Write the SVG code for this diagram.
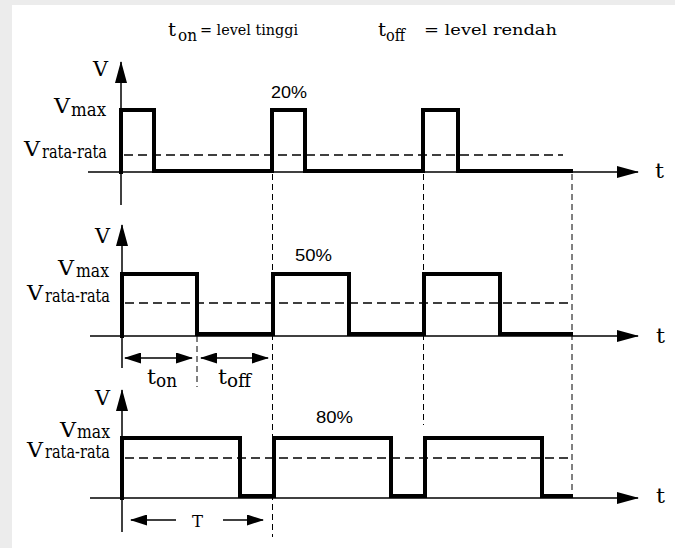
<svg xmlns="http://www.w3.org/2000/svg" width="675" height="548" viewBox="0 0 675 548">
<defs>
<style>
.bg{fill:#ececec}
.paper{fill:#ffffff}
.axis{stroke:#000;stroke-width:1.5;fill:none}
.wave{stroke:#000;stroke-width:4;fill:none;stroke-linejoin:miter;stroke-linecap:square}
.avg{stroke:#000;stroke-width:1.5;fill:none;stroke-dasharray:9 5}
.guide{stroke:#000;stroke-width:1;fill:none;stroke-dasharray:6 4}
.dim{stroke:#000;stroke-width:1.5;fill:none}
text{font-family:'DejaVu Serif','Liberation Serif',serif;fill:#000}
text.pct{font-family:'Liberation Sans',Arial,sans-serif;font-size:17px}
</style>
<marker id="axhead" markerUnits="userSpaceOnUse" markerWidth="22" markerHeight="12" refX="21" refY="6" orient="auto">
<path d="M0,0 L22,6 L0,12 Z" fill="#000"/>
</marker>
<marker id="dimhead" markerUnits="userSpaceOnUse" markerWidth="17" markerHeight="11" refX="16" refY="5.5" orient="auto-start-reverse">
<path d="M0,0 L17,5.5 L0,11 Z" fill="#000"/>
</marker>
</defs>
<rect class="bg" x="0" y="0" width="675" height="548"/>
<rect class="paper" x="12" y="5" width="663" height="543"/>

<g id="legend">
<text x="168" y="36" font-size="19" textLength="8" lengthAdjust="spacingAndGlyphs">t</text>
<text x="178" y="41" font-size="17" textLength="19" lengthAdjust="spacingAndGlyphs">on</text>
<text x="200" y="35" font-size="15" textLength="98" lengthAdjust="spacingAndGlyphs">= level tinggi</text>
<text x="378" y="36" font-size="19" textLength="8" lengthAdjust="spacingAndGlyphs">t</text>
<text x="386" y="41" font-size="17" textLength="19" lengthAdjust="spacingAndGlyphs">off</text>
<text x="424" y="35" font-size="15" textLength="133" lengthAdjust="spacingAndGlyphs">= level rendah</text>
</g>

<g id="panel-20">
<path class="axis" d="M121,205 V62" marker-end="url(#axhead)"/>
<path class="axis" d="M88,172 H638" marker-end="url(#axhead)"/>
<path class="avg" d="M124,155 H563"/>
<path class="wave" d="M121,172 V110 H154 V171 H272 V110 H305 V171 H423 V110 H458 V171 H571"/>
<text x="93" y="76" font-size="20" textLength="15" lengthAdjust="spacingAndGlyphs">V</text>
<text x="54" y="113" font-size="20" textLength="16" lengthAdjust="spacingAndGlyphs">V</text>
<text x="71" y="116" font-size="18" textLength="35" lengthAdjust="spacingAndGlyphs">max</text>
<text x="24" y="156" font-size="20" textLength="16" lengthAdjust="spacingAndGlyphs">V</text>
<text x="42" y="158" font-size="18" textLength="65" lengthAdjust="spacingAndGlyphs">rata-rata</text>
<text class="pct" x="271" y="98" textLength="36" lengthAdjust="spacingAndGlyphs">20%</text>
<text x="655" y="178" font-size="20" textLength="9" lengthAdjust="spacingAndGlyphs">t</text>
</g>

<g id="panel-50">
<path class="axis" d="M122,368 V225" marker-end="url(#axhead)"/>
<path class="axis" d="M90,336 H638" marker-end="url(#axhead)"/>
<path class="avg" d="M125,303 H569"/>
<path class="wave" d="M122,336 V274 H197 V334 H273 V274 H349 V334 H424 V274 H500 V334 H571"/>
<text x="95" y="243" font-size="20" textLength="15" lengthAdjust="spacingAndGlyphs">V</text>
<text x="58" y="275" font-size="20" textLength="16" lengthAdjust="spacingAndGlyphs">V</text>
<text x="76" y="277" font-size="18" textLength="33" lengthAdjust="spacingAndGlyphs">max</text>
<text x="27" y="300" font-size="20" textLength="16" lengthAdjust="spacingAndGlyphs">V</text>
<text x="45" y="302" font-size="18" textLength="65" lengthAdjust="spacingAndGlyphs">rata-rata</text>
<text class="pct" x="295" y="261" textLength="37" lengthAdjust="spacingAndGlyphs">50%</text>
<text x="656" y="343" font-size="20" textLength="9" lengthAdjust="spacingAndGlyphs">t</text>
<text x="147" y="384" font-size="20" textLength="9" lengthAdjust="spacingAndGlyphs">t</text>
<text x="156" y="387" font-size="19" textLength="21" lengthAdjust="spacingAndGlyphs">on</text>
<text x="218" y="384" font-size="20" textLength="9" lengthAdjust="spacingAndGlyphs">t</text>
<text x="227" y="387" font-size="19" textLength="24" lengthAdjust="spacingAndGlyphs">off</text>
</g>

<g id="panel-80">
<path class="axis" d="M122,532 V390" marker-end="url(#axhead)"/>
<path class="axis" d="M90,498 H638" marker-end="url(#axhead)"/>
<path class="avg" d="M125,458 H568"/>
<path class="wave" d="M122,498 V438 H240 V496 H274 V438 H391 V496 H425 V438 H542 V496 H571"/>
<text x="95" y="405" font-size="20" textLength="15" lengthAdjust="spacingAndGlyphs">V</text>
<text x="60" y="437" font-size="20" textLength="16" lengthAdjust="spacingAndGlyphs">V</text>
<text x="77" y="438" font-size="18" textLength="33" lengthAdjust="spacingAndGlyphs">max</text>
<text x="27" y="457" font-size="20" textLength="16" lengthAdjust="spacingAndGlyphs">V</text>
<text x="45" y="458" font-size="18" textLength="65" lengthAdjust="spacingAndGlyphs">rata-rata</text>
<text class="pct" x="316" y="423" textLength="37" lengthAdjust="spacingAndGlyphs">80%</text>
<text x="656" y="503" font-size="20" textLength="9" lengthAdjust="spacingAndGlyphs">t</text>
<text x="192" y="527" font-size="17" textLength="11" lengthAdjust="spacingAndGlyphs">T</text>
</g>

<g id="connectors">
<path class="guide" d="M272.5,174 V537"/>
<path class="guide" d="M423.5,174 V425"/>
<path class="guide" d="M572,174 V498"/>
<path class="guide" d="M197,336 V387"/>
<path class="dim" d="M125,358 H192" marker-start="url(#dimhead)" marker-end="url(#dimhead)"/>
<path class="dim" d="M201,358 H268" marker-start="url(#dimhead)" marker-end="url(#dimhead)"/>
<path class="dim" d="M176,520 H131" marker-end="url(#dimhead)"/>
<path class="dim" d="M223,520 H263" marker-end="url(#dimhead)"/>
</g>
</svg>
